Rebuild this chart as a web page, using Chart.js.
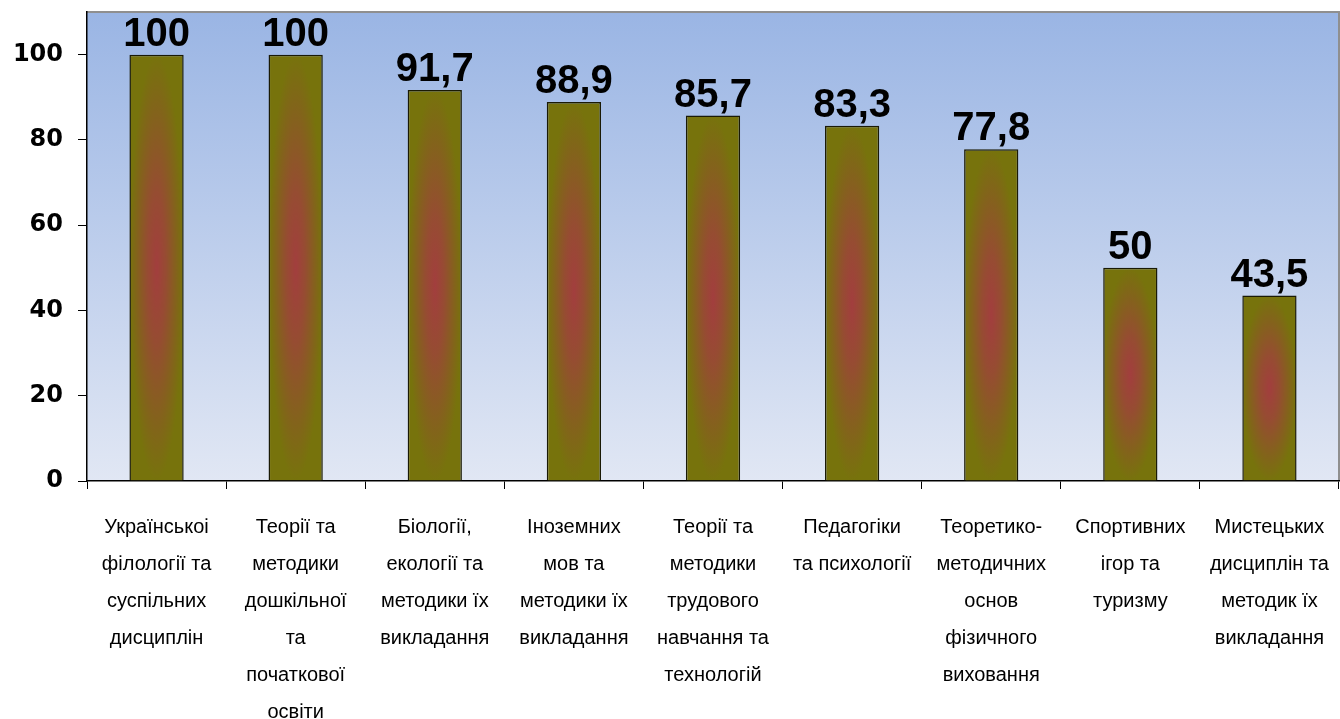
<!DOCTYPE html>
<html>
<head>
<meta charset="utf-8">
<script src="https://cdn.jsdelivr.net/npm/chart.js@4.4.1/dist/chart.umd.min.js"></script>
<style>
  html, body { margin: 0; padding: 0; background: #fff; }
  #wrap { width: 1340px; height: 719px; }
</style>
</head>
<body>
<div id="wrap"><canvas id="myChart"></canvas></div>
<script>
// категорії (кафедри) і значення, %
const categories = [
  ["Українськоі", "філології та", "суспільних", "дисциплін"],
  ["Теорії та", "методики", "дошкільної", "та", "початкової", "освіти"],
  ["Біології,", "екології та", "методики їх", "викладання"],
  ["Іноземних", "мов та", "методики їх", "викладання"],
  ["Теорії та", "методики", "трудового", "навчання та", "технологій"],
  ["Педагогіки", "та психології"],
  ["Теоретико-", "методичних", "основ", "фізичного", "виховання"],
  ["Спортивних", "ігор та", "туризму"],
  ["Мистецьких", "дисциплін та", "методик їх", "викладання"]
];
const values = [100, 100, 91.7, 88.9, 85.7, 83.3, 77.8, 50, 43.5];
const yTicks = [0, 20, 40, 60, 80, 100];

const OLIVE = "rgb(119,115,12)";
const BAR_PCT = 0.39;

function barFill(ctx) {
  const chart = ctx.chart;
  if (!chart.chartArea || !chart.scales.x) return OLIVE;
  const xs = chart.scales.x, ys = chart.scales.y;
  const w = Math.max(1, Math.round(xs.width / categories.length * BAR_PCT));
  const xc = xs.getPixelForValue(ctx.dataIndex);
  const top = ys.getPixelForValue(ctx.raw);
  const base = ys.getPixelForValue(0);
  const h = Math.max(1, Math.round(base - top));
  const off = document.createElement("canvas");
  off.width = w; off.height = h;
  const c = off.getContext("2d");
  c.fillStyle = OLIVE;
  c.fillRect(0, 0, w, h);
  c.save();
  c.translate(w / 2, h / 2);
  c.scale(w / 2, h / 2);
  const g = c.createRadialGradient(0, 0, 0, 0, 0, 1);
  g.addColorStop(0, "rgb(162,62,62)");
  g.addColorStop(0.35, "rgb(150,76,50)");
  g.addColorStop(0.75, "rgb(130,100,26)");
  g.addColorStop(1, OLIVE);
  c.fillStyle = g;
  c.fillRect(-1, -1, 2, 2);
  c.restore();
  const p = chart.ctx.createPattern(off, "no-repeat");
  p.setTransform(new DOMMatrix().translate(xc - w / 2, top));
  return p;
}

// фон області побудови + рамка зверху/справа
const plotBg = {
  id: "plotBg",
  beforeDraw(chart) {
    const { ctx, chartArea: a } = chart;
    const g = ctx.createLinearGradient(0, a.top, 0, a.bottom);
    g.addColorStop(0, "#9ab5e4");
    g.addColorStop(1, "#e1e7f4");
    ctx.save();
    ctx.fillStyle = g;
    ctx.fillRect(a.left, a.top, a.right - a.left, a.bottom - a.top);
    ctx.strokeStyle = "#8f8f8f";
    ctx.lineWidth = 2;
    ctx.beginPath();
    ctx.moveTo(a.left, a.top);
    ctx.lineTo(a.right, a.top);
    ctx.lineTo(a.right, a.bottom);
    ctx.stroke();
    ctx.restore();
  }
};

// підписи значень над стовпчиками
const valueLabels = {
  id: "valueLabels",
  afterDatasetsDraw(chart) {
    const { ctx } = chart;
    const meta = chart.getDatasetMeta(0);
    ctx.save();
    ctx.fillStyle = "#000";
    ctx.font = "bold 40px 'Liberation Sans', Arial, sans-serif";
    ctx.textAlign = "center";
    ctx.textBaseline = "alphabetic";
    meta.data.forEach((bar, i) => {
      ctx.fillText(String(values[i]).replace(".", ","), bar.x, bar.y - 9);
    });
    ctx.restore();
  }
};

new Chart(document.getElementById("myChart"), {
  type: "bar",
  data: {
    labels: categories,
    datasets: [{
      data: values,
      backgroundColor: barFill,
      borderColor: "#1a1a05",
      borderWidth: 1.5,
      barPercentage: BAR_PCT,
      categoryPercentage: 1
    }]
  },
  options: {
    responsive: true,
    maintainAspectRatio: false,
    animation: false,
    layout: { padding: { top: 12, right: 1, left: 0, bottom: 0 } },
    plugins: { legend: { display: false }, tooltip: { enabled: false } },
    scales: {
      x: {
        grid: { drawOnChartArea: false, color: "#000", tickLength: 8, offset: true },
        border: { color: "#000", width: 1.5 },
        ticks: {
          color: "#000",
          autoSkip: false,
          maxRotation: 0,
          minRotation: 0,
          padding: 20,
          font: { family: "'Liberation Sans', Arial, sans-serif", size: 20, lineHeight: "37px" }
        },
        afterFit(scale) {
          scale.height = 238;
          scale.paddingLeft = 0;
          scale.paddingRight = 0;
        }
      },
      y: {
        min: 0,
        max: 110,
        grid: { drawOnChartArea: false, color: "#000", tickLength: 9 },
        border: { color: "#000", width: 1.5 },
        afterBuildTicks(scale) {
          scale.ticks = yTicks.map(v => ({ value: v }));
        },
        ticks: {
          color: "#000",
          padding: 15,
          font: { family: "'DejaVu Sans', sans-serif", size: 24, weight: "bold" }
        },
        afterFit(scale) {
          scale.width = 87;
          scale.paddingTop = 0;
          scale.paddingBottom = 0;
        }
      }
    }
  },
  plugins: [plotBg, valueLabels]
});
</script>
</body>
</html>
